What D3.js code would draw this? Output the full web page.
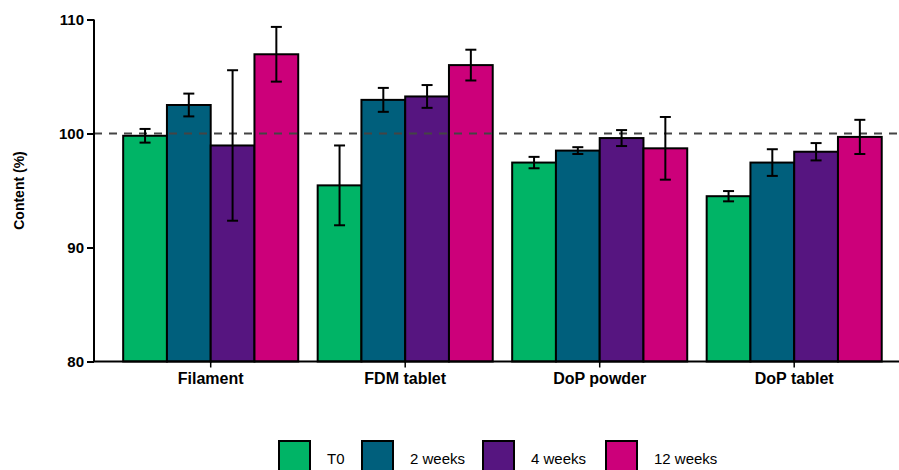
<!DOCTYPE html>
<html>
<head>
<meta charset="utf-8">
<script src="https://cdn.jsdelivr.net/npm/d3@7"></script>
<style>
  html, body { margin: 0; padding: 0; background: #fff; }
  svg { display: block; font-family: "Liberation Sans", Arial, sans-serif; }
</style>
</head>
<body>
<svg id="chart" width="899" height="470"></svg>
<script>
// Formulations and storage time points
const categories = ["Filament", "FDM tablet", "DoP powder", "DoP tablet"];
const series = ["T0", "2 weeks", "4 weeks", "12 weeks"];
const colors = ["#00b466", "#005f7c", "#561580", "#cc007a"];

// Mean drug content (%) per category, one array per time point
const meanT0   = [99.8, 95.45, 97.45, 94.5];
const mean2wk  = [102.5, 102.95, 98.5, 97.45];
const mean4wk  = [98.95, 103.25, 99.6, 98.4];
const mean12wk = [106.95, 106.0, 98.7, 99.7];

// Standard deviations
const sdT0   = [0.6, 3.5, 0.5, 0.45];
const sd2wk  = [1.0, 1.05, 0.3, 1.17];
const sd4wk  = [6.6, 1.0, 0.7, 0.76];
const sd12wk = [2.4, 1.35, 2.75, 1.5];

const yTicks = [80, 90, 100, 110];
const referenceLevel = 100;

const means = [meanT0, mean2wk, mean4wk, mean12wk];
const sds = [sdT0, sd2wk, sd4wk, sd12wk];

const svg = d3.select("#chart");

const x0 = d3.scaleBand()
  .domain(categories)
  .range([94, 910.9])
  .paddingInner(0.1)
  .paddingOuter(0.15);

const x1 = d3.scaleBand()
  .domain(series)
  .range([0, x0.bandwidth()])
  .padding(0);

const y = d3.scaleLinear().domain([80, 110]).range([361.5, 19.5]);

const color = d3.scaleOrdinal().domain(series).range(colors);

const rows = [];
categories.forEach((c, ci) => {
  series.forEach((s, si) => {
    rows.push({ cat: c, ser: s, mean: means[si][ci], sd: sds[si][ci] });
  });
});

// Bars
svg.append("g").selectAll("rect")
  .data(rows)
  .join("rect")
  .attr("x", d => x0(d.cat) + x1(d.ser))
  .attr("y", d => y(d.mean))
  .attr("width", x1.bandwidth())
  .attr("height", d => y(80) - y(d.mean))
  .attr("fill", d => color(d.ser))
  .attr("stroke", "#000")
  .attr("stroke-width", 2);

// Reference line at 100 %
svg.append("line")
  .attr("x1", 94).attr("x2", 899)
  .attr("y1", y(referenceLevel)).attr("y2", y(referenceLevel))
  .attr("stroke", "#444")
  .attr("stroke-width", 2)
  .attr("stroke-dasharray", "8,7");

// Error bars
const eb = svg.append("g").selectAll("g")
  .data(rows)
  .join("g")
  .attr("transform", d => `translate(${x0(d.cat) + x1(d.ser) + x1.bandwidth() / 2},0)`)
  .attr("stroke", "#000")
  .attr("stroke-width", 2);
eb.append("line")
  .attr("y1", d => y(d.mean + d.sd)).attr("y2", d => y(d.mean - d.sd));
eb.append("line")
  .attr("x1", -5.5).attr("x2", 5.5)
  .attr("y1", d => y(d.mean + d.sd)).attr("y2", d => y(d.mean + d.sd));
eb.append("line")
  .attr("x1", -5.5).attr("x2", 5.5)
  .attr("y1", d => y(d.mean - d.sd)).attr("y2", d => y(d.mean - d.sd));

// Y axis
const yAxis = svg.append("g")
  .attr("transform", "translate(94,0)")
  .call(d3.axisLeft(y).tickValues(yTicks).tickSize(7).tickPadding(3).tickFormat(d3.format("d")));
yAxis.select(".domain").attr("stroke", "#000").attr("stroke-width", 2)
  .attr("d", `M0,${y(110)}V${y(80)}`);
yAxis.selectAll(".tick line").attr("stroke", "#000").attr("stroke-width", 2);
yAxis.selectAll(".tick text")
  .attr("font-family", "'Liberation Sans', Arial, sans-serif")
  .attr("font-size", 15).attr("font-weight", "bold").attr("fill", "#000");

// X axis
const xAxis = svg.append("g")
  .attr("transform", `translate(0,${y(80)})`)
  .call(d3.axisBottom(x0).tickSize(6).tickPadding(5));
xAxis.select(".domain").attr("stroke", "#000").attr("stroke-width", 2)
  .attr("d", "M93,0H911");
xAxis.selectAll(".tick line").attr("stroke", "#000").attr("stroke-width", 1.5);
xAxis.selectAll(".tick text")
  .attr("font-family", "'Liberation Sans', Arial, sans-serif")
  .attr("font-size", 16).attr("font-weight", "bold").attr("fill", "#000");

// Y axis title
svg.append("text")
  .attr("transform", `translate(24,${(y(110) + y(80)) / 2}) rotate(-90)`)
  .attr("text-anchor", "middle")
  .attr("font-size", 14)
  .attr("font-weight", "bold")
  .text("Content (%)");

// Legend
const legendX = [279, 362, 483, 606];
const legend = svg.append("g").selectAll("g")
  .data(series)
  .join("g")
  .attr("transform", (d, i) => `translate(${legendX[i]},441)`);
legend.append("rect")
  .attr("width", 31).attr("height", 31)
  .attr("fill", d => color(d))
  .attr("stroke", "#000").attr("stroke-width", 2);
legend.append("text")
  .attr("x", 48).attr("y", 23)
  .attr("font-size", 15)
  .text(d => d);
</script>
</body>
</html>
